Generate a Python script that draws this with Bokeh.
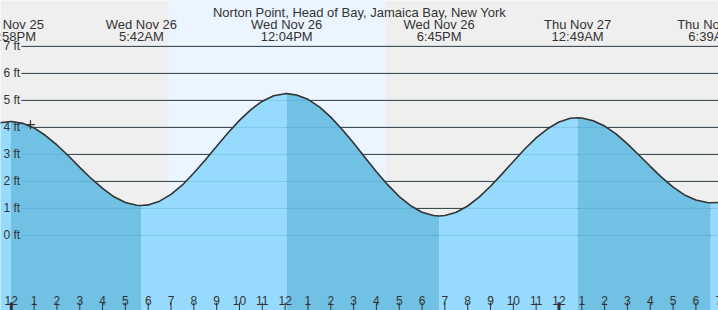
import numpy as np
from bokeh.plotting import figure
from bokeh.models import Range1d
from bokeh.core.properties import value
from bokeh.embed import file_html
from bokeh.resources import INLINE

# ---------------- data ----------------
title_text = "Norton Point, Head of Bay, Jamaica Bay, New York"

# hours since midnight (Wed Nov 26)
event_hours = [-0.033, 5.700, 12.067, 18.750, 24.817, 30.650]
event_heights = [4.22, 1.11, 5.25, 0.72, 4.36, 1.21]
event_types = ["H", "L", "H", "L", "H", "L"]
event_days = ["Tue Nov 25", "Wed Nov 26", "Wed Nov 26", "Wed Nov 26", "Thu Nov 27", "Thu Nov 27"]
event_times = ["11:58PM", "5:42AM", "12:04PM", "6:45PM", "12:49AM", "6:39AM"]

# water level read every half hour from -0.5 h to 31.0 h
level_hours = [-0.5 + 0.5 * i for i in range(64)]
level_ft = [4.17, 4.22, 4.15, 3.98, 3.70, 3.35, 2.95, 2.52, 2.11, 1.74, 1.43, 1.22, 1.12,
            1.13, 1.27, 1.52, 1.87, 2.31, 2.79, 3.30, 3.80, 4.26, 4.66, 4.97, 5.17, 5.25,
            5.20, 5.04, 4.76, 4.38, 3.92, 3.42, 2.89, 2.36, 1.87, 1.44, 1.10, 0.86, 0.74,
            0.74, 0.86, 1.09, 1.42, 1.82, 2.27, 2.74, 3.20, 3.61, 3.95, 4.20, 4.34,
            4.35, 4.25, 4.05, 3.76, 3.39, 2.98, 2.56, 2.15, 1.79, 1.50, 1.31, 1.22, 1.22]

sunrise_hour = 6.88   # 6:53AM
sunset_hour = 16.43   # 4:26PM

now_hour = 0.84
now_ft = 4.10

ft_ticks = [0, 1, 2, 3, 4, 5, 6, 7]
ft_labels = ["0 ft", "1 ft", "2 ft", "3 ft", "4 ft", "5 ft", "6 ft", "7 ft"]

hour_ticks = list(range(0, 32))
hour_labels = ["12", "1", "2", "3", "4", "5", "6", "7", "8", "9", "10", "11",
               "12", "1", "2", "3", "4", "5", "6", "7", "8", "9", "10", "11",
               "12", "1", "2", "3", "4", "5", "6", "7"]
midnight_hours = [0, 24]

# ---------------- layout / style ----------------
W, H = 718, 310
X0, X1 = -0.473, 30.99
Y0, Y1 = -2.78, 8.70

def px_x(px):
    return X0 + px * (X1 - X0) / W

def px_y(py):
    return Y1 - py * (Y1 - Y0) / H

NIGHT = "#efefef"
DAY = "#ebf5ff"
WATER_LIGHT = "#96dbfd"
WATER_DARK = "#71c1e4"
INK = "#333333"
FONT = value("Liberation Sans")

p = figure(width=W, height=H, x_range=Range1d(X0, X1), y_range=Range1d(Y0, Y1),
           toolbar_location=None, output_backend="svg",
           x_axis_type=None, y_axis_type=None, min_border=0,
           background_fill_color=NIGHT, border_fill_color=NIGHT)
p.grid.visible = False
p.outline_line_color = None

# daylight band
p.quad(left=[sunrise_hour], right=[sunset_hour], bottom=[Y0 - 1], top=[Y1 + 1],
       fill_color=DAY, line_color=None)

# grid lines (black above water)
gx0 = px_x(21)
p.segment(x0=[gx0] * len(ft_ticks), y0=ft_ticks, x1=[X1 + 1] * len(ft_ticks), y1=ft_ticks,
          line_color=INK, line_width=1)

# merged curve
pts = sorted(zip(level_hours + event_hours, level_ft + event_heights))
t_all = np.array([a for a, b in pts])
h_all = np.array([b for a, b in pts])

bounds = [X0 - 1] + event_hours + [X1 + 1]
for i in range(len(bounds) - 1):
    a, b = bounds[i], bounds[i + 1]
    m = (t_all >= a - 1e-9) & (t_all <= b + 1e-9)
    col = WATER_LIGHT if i == 0 or event_types[i - 1] == "L" else WATER_DARK
    p.varea(x=t_all[m], y1=[Y0 - 1] * int(m.sum()), y2=h_all[m], fill_color=col)

# grid lines tinted inside water
p.segment(x0=[gx0] * len(ft_ticks), y0=ft_ticks, x1=[X1 + 1] * len(ft_ticks), y1=ft_ticks,
          line_color="#2a7fb0", line_alpha=0.2, line_width=1)

# water surface
p.line(t_all, h_all, line_color=INK, line_width=1.6)

# current time marker
p.scatter([now_hour], [now_ft], marker="cross", size=9, line_color=INK, line_width=1.2)

# y labels
p.text(x=[px_x(3)] * len(ft_ticks), y=ft_ticks, text=ft_labels, text_font=FONT,
       text_font_size="12px", text_color=INK, text_align="left", text_baseline="middle")

# hour ticks and labels
p.segment(x0=hour_ticks, y0=[px_y(302)] * len(hour_ticks), x1=hour_ticks,
          y1=[Y0 - 1] * len(hour_ticks), line_color=INK, line_width=1)
p.segment(x0=midnight_hours, y0=[px_y(302)] * len(midnight_hours), x1=midnight_hours,
          y1=[Y0 - 1] * len(midnight_hours), line_color=INK, line_width=3)
p.text(x=hour_ticks, y=[px_y(300)] * len(hour_ticks), text=hour_labels, text_font=FONT,
       text_font_size="12px", text_color=INK, text_align="center", text_baseline="alphabetic")

# title and event labels
p.text(x=[(X0 + X1) / 2], y=[px_y(11.7)], text=[title_text], text_font=FONT,
       text_font_size="13px", text_color=INK, text_align="center", text_baseline="alphabetic")
p.text(x=event_hours, y=[px_y(23.5)] * len(event_hours), text=event_days, text_font=FONT,
       text_font_size="13px", text_color=INK, text_align="center", text_baseline="alphabetic")
p.text(x=event_hours, y=[px_y(35.8)] * len(event_hours), text=event_times, text_font=FONT,
       text_font_size="13px", text_color=INK, text_align="center", text_baseline="alphabetic")

open("out.html", "w").write(file_html(p, INLINE))
